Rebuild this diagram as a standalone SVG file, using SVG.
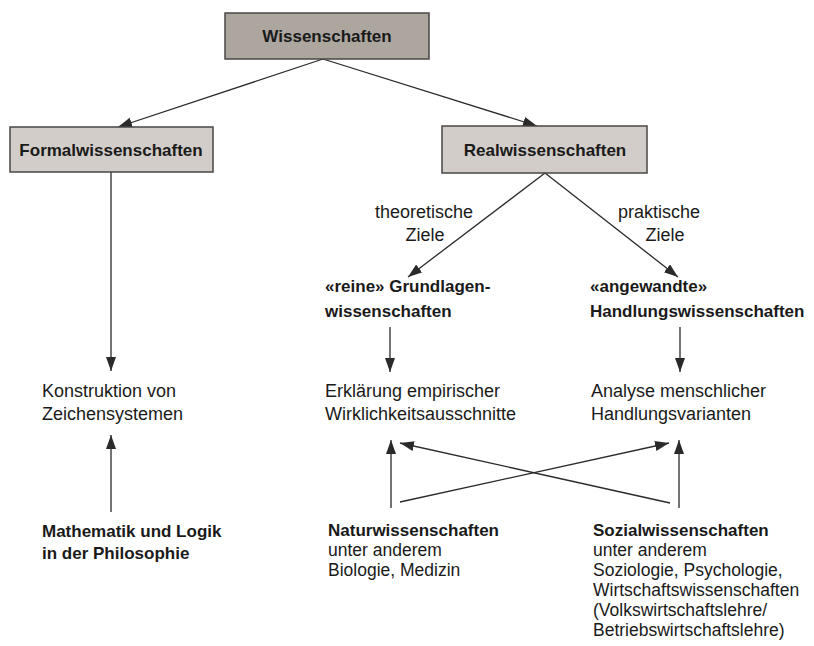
<svg xmlns="http://www.w3.org/2000/svg" width="814" height="646" viewBox="0 0 814 646">
<style>
.box{stroke:#4a4744;stroke-width:1.5}
.top{fill:#aca69f}
.sub{fill:#d2cdc8}
.t{font-family:"Liberation Sans",Arial,sans-serif;fill:#1a1a1a}
.b{font-weight:bold;font-size:17px}
.r{font-size:18px}
.s{font-size:17.5px}
.c{text-anchor:middle}
.ln{stroke:#2a2a2a;stroke-width:1.3;fill:none;marker-end:url(#ah)}
</style>
<defs>
<marker id="ah" markerUnits="userSpaceOnUse" markerWidth="16" markerHeight="12" refX="14" refY="5" orient="auto">
<path d="M0,0 L14,5 L0,10 z" fill="#2a2a2a"/>
</marker>
</defs>
<rect width="814" height="646" fill="#ffffff"/>
<g id="connectors">
<line class="ln" x1="323" y1="59" x2="118" y2="127"/>
<line class="ln" x1="323" y1="59" x2="537" y2="126"/>
<line class="ln" x1="111" y1="172" x2="111" y2="371"/>
<line class="ln" x1="545" y1="173" x2="408" y2="277"/>
<line class="ln" x1="545" y1="173" x2="678" y2="277"/>
<line class="ln" x1="390" y1="327" x2="390" y2="372"/>
<line class="ln" x1="680" y1="327" x2="680" y2="372"/>
<line class="ln" x1="111" y1="512" x2="111" y2="435"/>
<line class="ln" x1="391" y1="508" x2="391" y2="440"/>
<line class="ln" x1="679" y1="508" x2="679" y2="440"/>
<line class="ln" x1="400" y1="502" x2="669" y2="443"/>
<line class="ln" x1="670" y1="503" x2="400" y2="443"/>
</g>
<g id="wissenschaften">
<rect class="box top" x="225" y="13" width="204" height="46"/>
<text class="t b c" x="327" y="42">Wissenschaften</text>
</g>
<g id="formalwissenschaften">
<rect class="box sub" x="10" y="127" width="203" height="45"/>
<text class="t b c" x="111" y="156">Formalwissenschaften</text>
</g>
<g id="realwissenschaften">
<rect class="box sub" x="442" y="126" width="205" height="47"/>
<text class="t b c" x="545" y="156">Realwissenschaften</text>
</g>
<g id="label-theoretisch">
<text class="t r c" x="424" y="218">theoretische</text>
<text class="t r c" x="425" y="241">Ziele</text>
</g>
<g id="label-praktisch">
<text class="t r c" x="659" y="218">praktische</text>
<text class="t r c" x="665" y="241">Ziele</text>
</g>
<g id="grundlagen">
<text class="t b" x="325" y="292">«reine» Grundlagen-</text>
<text class="t b" x="325" y="317">wissenschaften</text>
</g>
<g id="handlung">
<text class="t b" x="590" y="292">«angewandte»</text>
<text class="t b" x="590" y="317">Handlungswissenschaften</text>
</g>
<g id="konstruktion">
<text class="t r" x="42" y="397">Konstruktion von</text>
<text class="t r" x="42" y="420">Zeichensystemen</text>
</g>
<g id="erklaerung">
<text class="t r" x="325" y="397">Erklärung empirischer</text>
<text class="t r" x="325" y="420">Wirklichkeitsausschnitte</text>
</g>
<g id="analyse">
<text class="t r" x="591" y="397">Analyse menschlicher</text>
<text class="t r" x="591" y="420">Handlungsvarianten</text>
</g>
<g id="mathematik">
<text class="t b" x="42" y="537">Mathematik und Logik</text>
<text class="t b" x="42" y="559">in der Philosophie</text>
</g>
<g id="natur">
<text class="t b" x="328" y="536">Naturwissenschaften</text>
<text class="t s" x="328" y="556">unter anderem</text>
<text class="t s" x="328" y="576">Biologie, Medizin</text>
</g>
<g id="sozial">
<text class="t b" x="593" y="536">Sozialwissenschaften</text>
<text class="t s" x="593" y="556">unter anderem</text>
<text class="t s" x="593" y="576">Soziologie, Psychologie,</text>
<text class="t s" x="593" y="596">Wirtschaftswissenschaften</text>
<text class="t s" x="593" y="616">(Volkswirtschaftslehre/</text>
<text class="t s" x="593" y="636">Betriebswirtschaftslehre)</text>
</g>
</svg>
